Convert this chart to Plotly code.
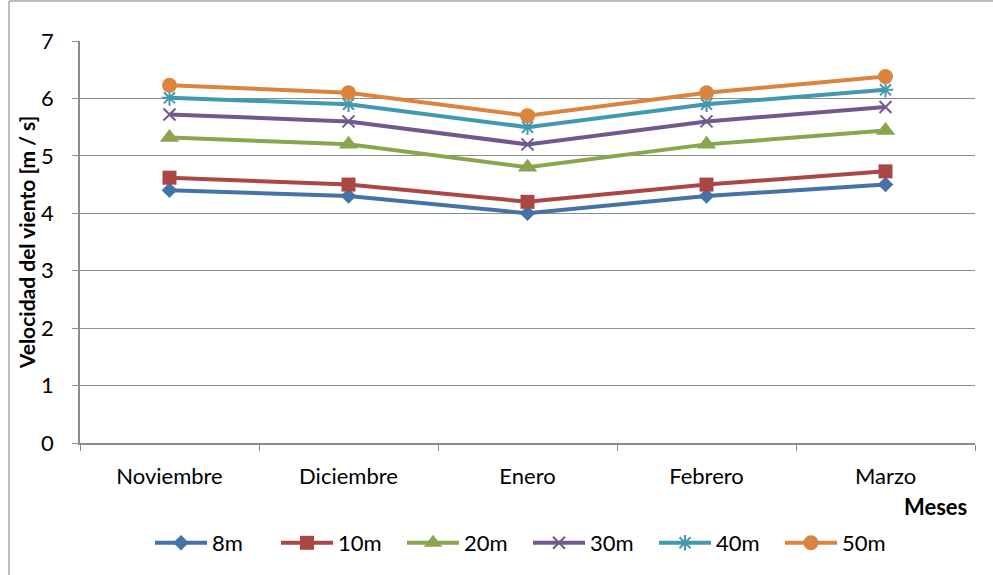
import plotly.graph_objects as go

# Monthly mean wind speed at several measurement heights
meses = ["Noviembre", "Diciembre", "Enero", "Febrero", "Marzo"]
alturas = ["8m", "10m", "20m", "30m", "40m", "50m"]

v_8m = [4.40, 4.30, 4.00, 4.30, 4.50]
v_10m = [4.62, 4.50, 4.20, 4.50, 4.73]
v_20m = [5.32, 5.20, 4.80, 5.20, 5.44]
v_30m = [5.72, 5.60, 5.20, 5.60, 5.85]
v_40m = [6.01, 5.90, 5.50, 5.90, 6.15]
v_50m = [6.23, 6.10, 5.70, 6.10, 6.38]

series = [v_8m, v_10m, v_20m, v_30m, v_40m, v_50m]
colores = ["#4572A7", "#AA4643", "#89A54E", "#71588F", "#4198AF", "#DB843D"]
simbolos = ["diamond", "square", "triangle-up", "x-thin-open", "asterisk-open", "circle"]
tamanos = [12, 14, 17, 12, 13, 15]

FONT = "Lato, 'Open Sans', sans-serif"
GRID = "#8C8C8C"

fig = go.Figure()
for nombre, valores, color, simbolo, tam in zip(alturas, series, colores, simbolos, tamanos):
    fig.add_trace(go.Scatter(
        x=meses, y=valores, name=nombre, mode="lines+markers",
        line=dict(color=color, width=4),
        marker=dict(symbol=simbolo, size=tam, color=color,
                    line=dict(color=color, width=2 if "open" in simbolo else 0)),
    ))

fig.update_layout(
    width=993, height=575,
    margin=dict(l=80, r=18, t=41, b=131),
    paper_bgcolor="white", plot_bgcolor="white",
    font=dict(family=FONT, size=22, color="#000000"),
    showlegend=True,
    legend=dict(orientation="h", x=(150 - 80) / 895, xanchor="left",
                y=(444 - 543) / 403, yanchor="middle",
                font=dict(family=FONT, size=22), itemwidth=52,
                entrywidth=59, entrywidthmode="pixels",
                bgcolor="rgba(0,0,0,0)"),
    xaxis=dict(
        type="category", range=[-0.5, 4.5],
        showgrid=False, showline=True, linecolor=GRID, linewidth=1.5,
        ticks="outside", tickson="boundaries", ticklen=6, tickcolor=GRID,
        tickfont=dict(family=FONT, size=22), zeroline=False,
        ticklabelstandoff=13,
    ),
    yaxis=dict(
        range=[0, 7], dtick=1, showgrid=True, gridcolor=GRID, gridwidth=1,
        showline=True, linecolor=GRID, linewidth=1.5,
        ticks="outside", ticklen=6, tickcolor=GRID,
        tickfont=dict(family=FONT, size=22), zeroline=False,
        ticklabelstandoff=14,
        title=dict(text="<b>Velocidad del viento [m / s]</b>",
                   font=dict(family=FONT, size=21), standoff=0),
    ),
    annotations=[
        dict(text="<b>Meses</b>", xref="paper", yref="paper",
             x=(935 - 80) / 895, y=(444 - 508) / 403,
             xanchor="center", yanchor="middle", showarrow=False,
             font=dict(family=FONT, size=22)),
    ],
    shapes=[
        # chart frame (left and top edges)
        dict(type="line", xref="paper", yref="paper",
             x0=(9 - 80) / 895, x1=(1000 - 80) / 895,
             y0=(444 - 1) / 403, y1=(444 - 1) / 403,
             line=dict(color="#A6A6A6", width=1.5)),
        dict(type="line", xref="paper", yref="paper",
             x0=(9 - 80) / 895, x1=(9 - 80) / 895,
             y0=(444 - 1) / 403, y1=(444 - 580) / 403,
             line=dict(color="#A6A6A6", width=1.5)),
    ],
)

fig.write_html("out.html")
